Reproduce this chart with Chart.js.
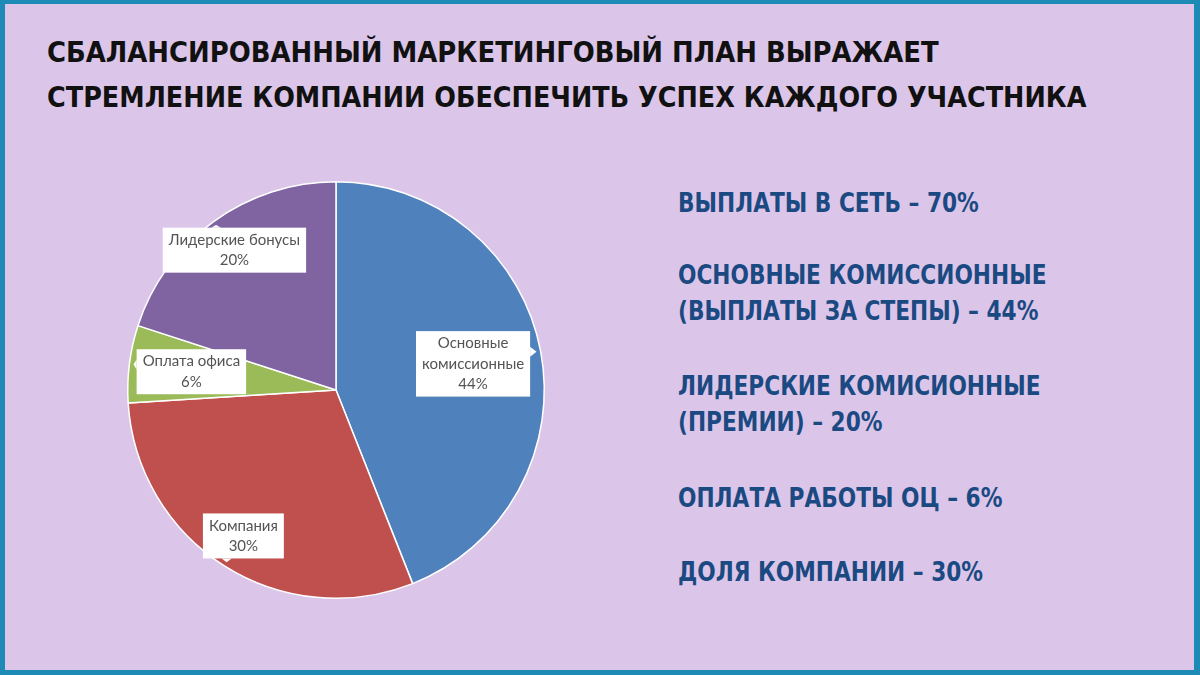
<!DOCTYPE html>
<html lang="ru">
<head>
    <meta charset="UTF-8">
    <title>Сбалансированный маркетинговый план</title>
    <script src="https://cdn.jsdelivr.net/npm/chart.js@4.4.1/dist/chart.umd.min.js"></script>
    <style>
        html, body {
            margin: 0;
            padding: 0;
            width: 1200px;
            height: 675px;
            overflow: hidden;
            background: #dbc6ea;
        }
        .frame {
            position: absolute;
            left: 0;
            top: 0;
            width: 1200px;
            height: 675px;
            box-sizing: border-box;
            border: solid #1e8bb6;
            border-width: 4px 6px 5px 5px;
        }
        .title {
            position: absolute;
            left: 47px;
            font-family: "Liberation Sans Narrow", "DejaVu Sans Condensed", sans-serif;
            font-weight: bold;
            font-size: 29px;
            line-height: 29px;
            color: #111;
            white-space: nowrap;
            transform: scaleX(0.978);
            transform-origin: left top;
        }
        .point {
            position: absolute;
            left: 678px;
            font-family: "Liberation Sans Narrow", "DejaVu Sans Condensed", sans-serif;
            font-weight: bold;
            font-size: 26.5px;
            line-height: 26.5px;
            color: #1b4a82;
            white-space: nowrap;
            transform: scaleX(0.91);
            transform-origin: left top;
        }
        .chart-box {
            position: absolute;
            left: 120px;
            top: 174px;
            width: 432px;
            height: 432px;
        }
    </style>
</head>
<body>
    <div class="frame"></div>
    <div class="title" style="top:38px; transform: scaleX(0.993)">СБАЛАНСИРОВАННЫЙ МАРКЕТИНГОВЫЙ ПЛАН ВЫРАЖАЕТ</div>
    <div class="title" style="top:83px">СТРЕМЛЕНИЕ КОМПАНИИ ОБЕСПЕЧИТЬ УСПЕХ КАЖДОГО УЧАСТНИКА</div>

    <div class="point" style="top:190px">ВЫПЛАТЫ В СЕТЬ – 70%</div>
    <div class="point" style="top:262px">ОСНОВНЫЕ КОМИССИОННЫЕ</div>
    <div class="point" style="top:298px">(ВЫПЛАТЫ ЗА СТЕПЫ) – 44%</div>
    <div class="point" style="top:373px">ЛИДЕРСКИЕ КОМИСИОННЫЕ</div>
    <div class="point" style="top:409px">(ПРЕМИИ) – 20%</div>
    <div class="point" style="top:485px">ОПЛАТА РАБОТЫ ОЦ – 6%</div>
    <div class="point" style="top:559px">ДОЛЯ КОМПАНИИ – 30%</div>

    <div class="chart-box"><canvas id="pie"></canvas></div>

    <script>
        // pie data, clockwise from 12 o'clock
        const categories = [
            ['Основные', 'комиссионные'],
            ['Компания'],
            ['Оплата офиса'],
            ['Лидерские бонусы']
        ];
        const shares = [44, 30, 6, 20];
        const colors = ['#4f81bd', '#c0504d', '#9bbb59', '#8064a2'];

        // how far out (fraction of radius) each label box sits
        const labelRadius = [0.67, 0.83, 0.70, 0.83];

        // white callout boxes, like Excel data labels
        const calloutLabels = {
            id: 'calloutLabels',
            afterDatasetsDraw(chart) {
                const ctx = chart.ctx;
                const meta = chart.getDatasetMeta(0);
                const values = chart.data.datasets[0].data;
                const total = values.reduce((a, b) => a + b, 0);
                const lineH = 20.5;
                const padX = 6, padY = 2;

                ctx.save();
                ctx.font = '15px Lato, "Open Sans", sans-serif';
                ctx.textAlign = 'center';
                ctx.textBaseline = 'middle';

                meta.data.forEach((arc, i) => {
                    const p = arc.getProps(['x', 'y', 'startAngle', 'endAngle', 'outerRadius'], true);
                    const mid = (p.startAngle + p.endAngle) / 2;
                    const cx = p.x + Math.cos(mid) * p.outerRadius * labelRadius[i];
                    const cy = p.y + Math.sin(mid) * p.outerRadius * labelRadius[i];
                    const ax = p.x + Math.cos(mid) * p.outerRadius * 0.98;
                    const ay = p.y + Math.sin(mid) * p.outerRadius * 0.98;

                    const lines = chart.data.labels[i].concat([Math.round(values[i] / total * 100) + '%']);
                    const w = Math.max(...lines.map(t => ctx.measureText(t).width)) + padX * 2;
                    const h = lines.length * lineH + padY * 2;
                    const left = cx - w / 2, top = cy - h / 2;
                    const right = left + w, bottom = top + h;

                    ctx.fillStyle = '#ffffff';
                    ctx.fillRect(left, top, w, h);

                    // pointer toward the slice edge
                    ctx.beginPath();
                    if (ay < top) {
                        const px = Math.min(Math.max(ax, left + 6), right - 6);
                        ctx.moveTo(px - 5, top); ctx.lineTo(ax, ay); ctx.lineTo(px + 5, top);
                    } else if (ay > bottom) {
                        const px = Math.min(Math.max(ax, left + 6), right - 6);
                        ctx.moveTo(px - 5, bottom); ctx.lineTo(ax, ay); ctx.lineTo(px + 5, bottom);
                    } else if (ax > right) {
                        const py = Math.min(Math.max(ay, top + 6), bottom - 6);
                        ctx.moveTo(right, py - 5); ctx.lineTo(ax, ay); ctx.lineTo(right, py + 5);
                    } else {
                        const py = Math.min(Math.max(ay, top + 6), bottom - 6);
                        ctx.moveTo(left, py - 5); ctx.lineTo(ax, ay); ctx.lineTo(left, py + 5);
                    }
                    ctx.closePath();
                    ctx.fill();

                    ctx.fillStyle = '#545454';
                    lines.forEach((t, k) => {
                        ctx.fillText(t, cx, top + padY + lineH * (k + 0.5));
                    });
                });
                ctx.restore();
            }
        };

        new Chart(document.getElementById('pie'), {
            type: 'pie',
            data: {
                labels: categories,
                datasets: [{
                    data: shares,
                    backgroundColor: colors,
                    borderColor: '#ffffff',
                    borderWidth: 1.5
                }]
            },
            options: {
                responsive: true,
                maintainAspectRatio: false,
                animation: false,
                layout: { padding: 7 },
                plugins: {
                    legend: { display: false },
                    tooltip: { enabled: false }
                }
            },
            plugins: [calloutLabels]
        });
    </script>
</body>
</html>
